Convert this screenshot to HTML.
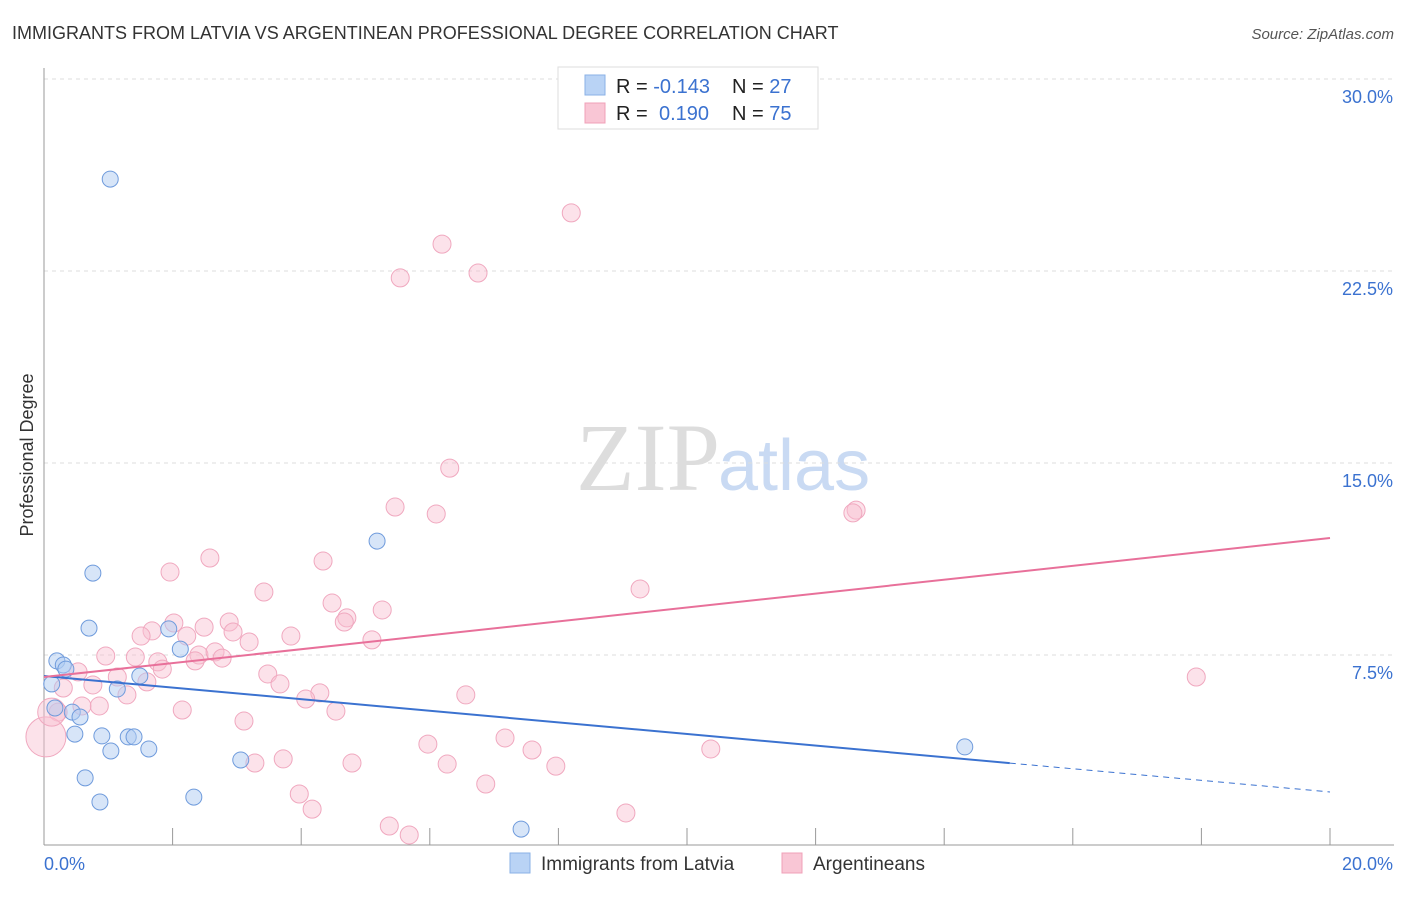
<!DOCTYPE html>
<html><head><meta charset="utf-8"><style>
body{margin:0;background:#fff;font-family:"Liberation Sans",sans-serif;}
svg text{font-family:"Liberation Sans",sans-serif;}
</style></head><body>
<svg id="chart" width="1406" height="892" xmlns="http://www.w3.org/2000/svg">
<text x="12" y="39" font-size="18" fill="#333">IMMIGRANTS FROM LATVIA VS ARGENTINEAN PROFESSIONAL DEGREE CORRELATION CHART</text>
<text x="1394" y="39" font-size="15" fill="#555" text-anchor="end" font-style="italic">Source: ZipAtlas.com</text>
<text x="33" y="455" font-size="18" fill="#333" text-anchor="middle" transform="rotate(-90 33 455)">Professional Degree</text>
<text x="720" y="490" font-size="96" fill="#ddd" text-anchor="end" font-family="Liberation Serif" style="font-family:'Liberation Serif',serif">ZIP</text>
<text x="718" y="490" font-size="72" fill="#c9daf3">atlas</text>
<g id="grid"></g><g id="axes"></g><g id="pts"></g><g id="trend"></g>
<g>
<rect x="558" y="67" width="260" height="62" fill="#fff" stroke="#ddd"/>
<rect x="585" y="75" width="20" height="20" fill="#b9d3f5" stroke="#8ab0e6"/>
<rect x="585" y="103" width="20" height="20" fill="#f9c6d5" stroke="#f0a0b8"/>
<text x="616" y="93" font-size="20" fill="#222">R = <tspan fill="#3b72d0">-0.143</tspan></text>
<text x="732" y="93" font-size="20" fill="#222">N = <tspan fill="#3b72d0">27</tspan></text>
<text x="616" y="120" font-size="20" fill="#222">R = </text><text x="659" y="120" font-size="20" fill="#3b72d0">0.190</text>
<text x="732" y="120" font-size="20" fill="#222">N = <tspan fill="#3b72d0">75</tspan></text>
</g>
<g>
<rect x="510" y="853" width="20" height="20" fill="#b9d3f5" stroke="#8ab0e6"/>
<text x="541" y="870" font-size="19" fill="#333">Immigrants from Latvia</text>
<rect x="782" y="853" width="20" height="20" fill="#f9c6d5" stroke="#f0a0b8"/>
<text x="813" y="870" font-size="19" fill="#333">Argentineans</text>
</g>
</svg>
<script>
const yTicks=[7.5,15,22.5,30];
const yTickLabels=["7.5%","15.0%","22.5%","30.0%"];
const xTickVals=[0,2,4,6,8,10,12,14,16,18,20];
const blueX=[1.03,0.76,0.70,0.20,0.30,0.34,0.12,1.14,1.49,1.94,2.12,0.44,0.56,0.17,0.48,0.90,1.04,1.31,1.40,1.63,3.06,0.64,0.87,2.33,5.18,7.42,14.32];
const blueY=[26.09,10.70,8.55,7.27,7.11,6.95,6.37,6.17,6.68,8.52,7.73,5.27,5.08,5.43,4.41,4.34,3.75,4.30,4.30,3.83,3.40,2.70,1.76,1.95,11.95,0.70,3.91];
const pinkX=[8.20,6.19,6.75,5.54,6.31,5.46,6.10,12.63,12.58,2.58,4.34,1.96,9.27,3.42,4.48,5.26,4.71,4.67,2.02,2.88,2.49,1.68,2.94,1.51,2.22,3.19,3.84,5.10,0.96,1.42,2.41,2.66,1.77,2.77,1.84,2.35,0.53,3.48,1.14,1.60,0.76,0.30,3.67,17.92,1.29,4.29,4.07,6.56,0.86,0.59,2.15,4.54,0.22,3.11,5.97,7.17,7.59,10.37,3.28,3.72,4.79,6.27,7.96,6.87,3.97,4.17,5.37,5.68,9.05,0.03,0.12];
const pinkY=[24.77,23.55,22.42,22.23,14.80,13.28,13.01,13.16,13.05,11.29,11.17,10.74,10.08,9.96,9.53,9.26,8.95,8.79,8.75,8.79,8.59,8.44,8.40,8.24,8.24,8.01,8.24,8.09,7.46,7.42,7.50,7.62,7.23,7.38,6.95,7.27,6.84,6.76,6.64,6.45,6.33,6.21,6.37,6.64,5.94,6.02,5.78,5.94,5.51,5.51,5.35,5.31,5.27,4.92,4.02,4.26,3.79,3.83,3.28,3.44,3.28,3.24,3.16,2.46,2.07,1.48,0.82,0.47,1.33,4.30,5.27];
const pinkR=pinkX.map((_,i)=>i===69?20:(i===70?14:9));
const blueTrend=[6.68,2.15]; const blueSolidEnd=15.02;
const pinkTrend=[6.64,12.07];
const NS="http://www.w3.org/2000/svg";
const sx=v=>44+v*64.3, sy=v=>847-v*25.6;
function mk(tag,attrs,parent){const e=document.createElementNS(NS,tag);for(const k in attrs)e.setAttribute(k,attrs[k]);document.getElementById(parent).appendChild(e);return e;}
yTicks.forEach((t,i)=>{
 const l=mk('line',{x1:44,x2:1394,y1:sy(t),y2:sy(t),stroke:'#ddd','stroke-dasharray':'4,4'},'grid');
 
 
 const tx=mk('text',{x:1393,y:sy(t)+24,'font-size':18,fill:'#3b72d0','text-anchor':'end'},'grid');
 tx.textContent=yTickLabels[i];
 
 
});
const ax=mk('line',{x1:44,x2:44,y1:68,y2:845,stroke:'#999'},'axes');


const bx=mk('line',{x1:44,x2:1394,y1:845,y2:845,stroke:'#999'},'axes');


xTickVals.forEach(v=>{
 const t=mk('line',{x1:sx(v),x2:sx(v),y1:828,y2:845,stroke:'#999'},'axes');
 
 
});
[[0,'0.0%','start',44],[20,'20.0%','end',1393]].forEach(a=>{
 const t=mk('text',{x:a[3],y:870,'font-size':18,fill:'#3b72d0','text-anchor':a[2]},'axes');
 t.textContent=a[1];
 
 
});
pinkX.forEach((x,i)=>{
 const c=mk('circle',{cx:sx(x),cy:sy(pinkY[i]),r:pinkR[i],fill:'rgba(249,190,208,0.45)',stroke:'#f0a8bf','stroke-width':1},'pts');
 
 
});
blueX.forEach((x,i)=>{
 const c=mk('circle',{cx:sx(x),cy:sy(blueY[i]),r:8,fill:'rgba(175,203,242,0.5)',stroke:'#6f9bdc','stroke-width':1},'pts');
 
 
});
const bAt=x=>blueTrend[0]+(blueTrend[1]-blueTrend[0])*x/20;
const b1=mk('line',{x1:sx(0),y1:sy(bAt(0)),x2:sx(blueSolidEnd),y2:sy(bAt(blueSolidEnd)),stroke:'#3b72d0','stroke-width':2},'trend');


const b2=mk('line',{x1:sx(blueSolidEnd),y1:sy(bAt(blueSolidEnd)),x2:sx(20),y2:sy(bAt(20)),stroke:'#3b72d0','stroke-width':1,'stroke-dasharray':'6,5'},'trend');


const p1=mk('line',{x1:sx(0),y1:sy(pinkTrend[0]),x2:sx(20),y2:sy(pinkTrend[1]),stroke:'#e8709a','stroke-width':2},'trend');


</script>
</body></html>
